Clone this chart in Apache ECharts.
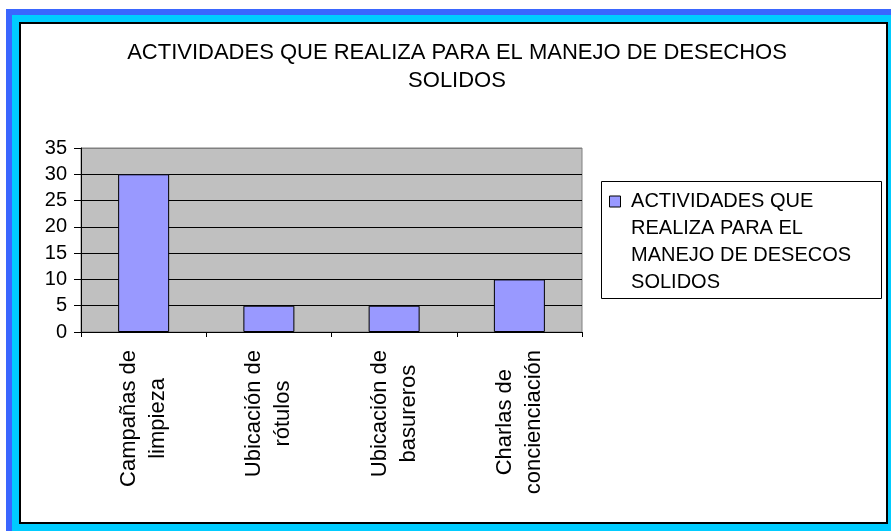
<!DOCTYPE html>
<html>
<head>
<meta charset="utf-8">
<script src="https://cdn.jsdelivr.net/npm/echarts@6/dist/echarts.min.js"></script>
<style>
  html, body { margin: 0; padding: 0; background: #fff; }
  #main { width: 891px; height: 531px; }
</style>
</head>
<body>
<div id="main"></div>
<script>
// data
var categories = ['Campañas de\nlimpieza', 'Ubicación de\nrótulos', 'Ubicación de\nbasureros', 'Charlas de\nconcienciación'];
var values = [30, 5, 5, 10];
var seriesName = 'ACTIVIDADES QUE REALIZA PARA EL MANEJO DE DESECOS SOLIDOS';
var legendLines = ['ACTIVIDADES QUE', 'REALIZA PARA EL', 'MANEJO DE DESECOS', 'SOLIDOS'];
var titleText = 'ACTIVIDADES QUE REALIZA PARA EL MANEJO DE DESECHOS\nSOLIDOS';

var FONT = '"Liberation Sans", Arial, sans-serif';

var myChart = echarts.init(document.getElementById('main'));

var option = {
  animation: false,
  backgroundColor: '#fff',
  textStyle: { fontFamily: FONT, color: '#000' },
  title: {
    text: titleText,
    left: 452,
    top: 34,
    textAlign: 'center',
    textStyle: { fontFamily: FONT, fontSize: 22, fontWeight: 'normal', color: '#000', lineHeight: 28 }
  },
  legend: {
    data: [seriesName],
    left: 609,
    top: 107,
    padding: 0,
    itemWidth: 11,
    itemHeight: 11,
    icon: 'rect',
    itemStyle: { borderColor: '#000', borderWidth: 1 },
    // blank lines in front keep the first line level with the icon
    formatter: function () {
      return '\n\n\n' + legendLines.map(function (l) { return ' ' + l; }).join('\n');
    },
    textStyle: { fontFamily: FONT, fontSize: 20, color: '#000', lineHeight: 27 }
  },
  graphic: [
    // window frame
    { type: 'rect', z: -10, shape: { x: 6, y: 9, width: 885, height: 522 }, style: { fill: '#3a66ff' } },
    { type: 'rect', z: -10, shape: { x: 12, y: 15, width: 879, height: 516 }, style: { fill: '#00ccff' } },
    { type: 'rect', z: -10, shape: { x: 20, y: 23, width: 867, height: 500 }, style: { fill: '#fff', stroke: '#000', lineWidth: 2 } },
    // legend box
    { type: 'rect', z: -5, shape: { x: 601.5, y: 181.5, width: 280, height: 117 }, style: { fill: '#fff', stroke: '#000', lineWidth: 1 } }
  ],
  grid: {
    left: 81,
    top: 148,
    width: 501,
    height: 184,
    show: true,
    backgroundColor: '#c0c0c0',
    borderColor: '#808080',
    borderWidth: 1,
    containLabel: false
  },
  xAxis: {
    type: 'category',
    data: categories,
    axisLine: { lineStyle: { color: '#000', width: 1 } },
    axisTick: { show: true, length: 5, lineStyle: { color: '#000' } },
    axisLabel: {
      rotate: 90,
      margin: 18,
      color: '#000',
      fontFamily: FONT,
      fontSize: 22,
      interval: 0,
      formatter: function (v) {
        return v.split('\n').map(function (l) { return '{c|' + l + '}'; }).join('\n');
      },
      rich: { c: { align: 'center', fontFamily: FONT, fontSize: 22, lineHeight: 29, color: '#000' } }
    }
  },
  yAxis: {
    type: 'value',
    min: 0,
    max: 35,
    interval: 5,
    axisLine: { show: true, lineStyle: { color: '#000' } },
    axisTick: { show: true, length: 7, lineStyle: { color: '#000' } },
    axisLabel: { margin: 14, color: '#000', fontFamily: FONT, fontSize: 20 },
    splitLine: {
      show: true,
      lineStyle: { color: ['#000', '#000', '#000', '#000', '#000', '#000', '#000', '#808080'], width: 1 }
    }
  },
  series: [{
    name: seriesName,
    type: 'bar',
    data: values,
    barWidth: 51,
    itemStyle: { color: '#9999ff', borderColor: '#000', borderWidth: 1 }
  }]
};

myChart.setOption(option);
</script>
</body>
</html>
